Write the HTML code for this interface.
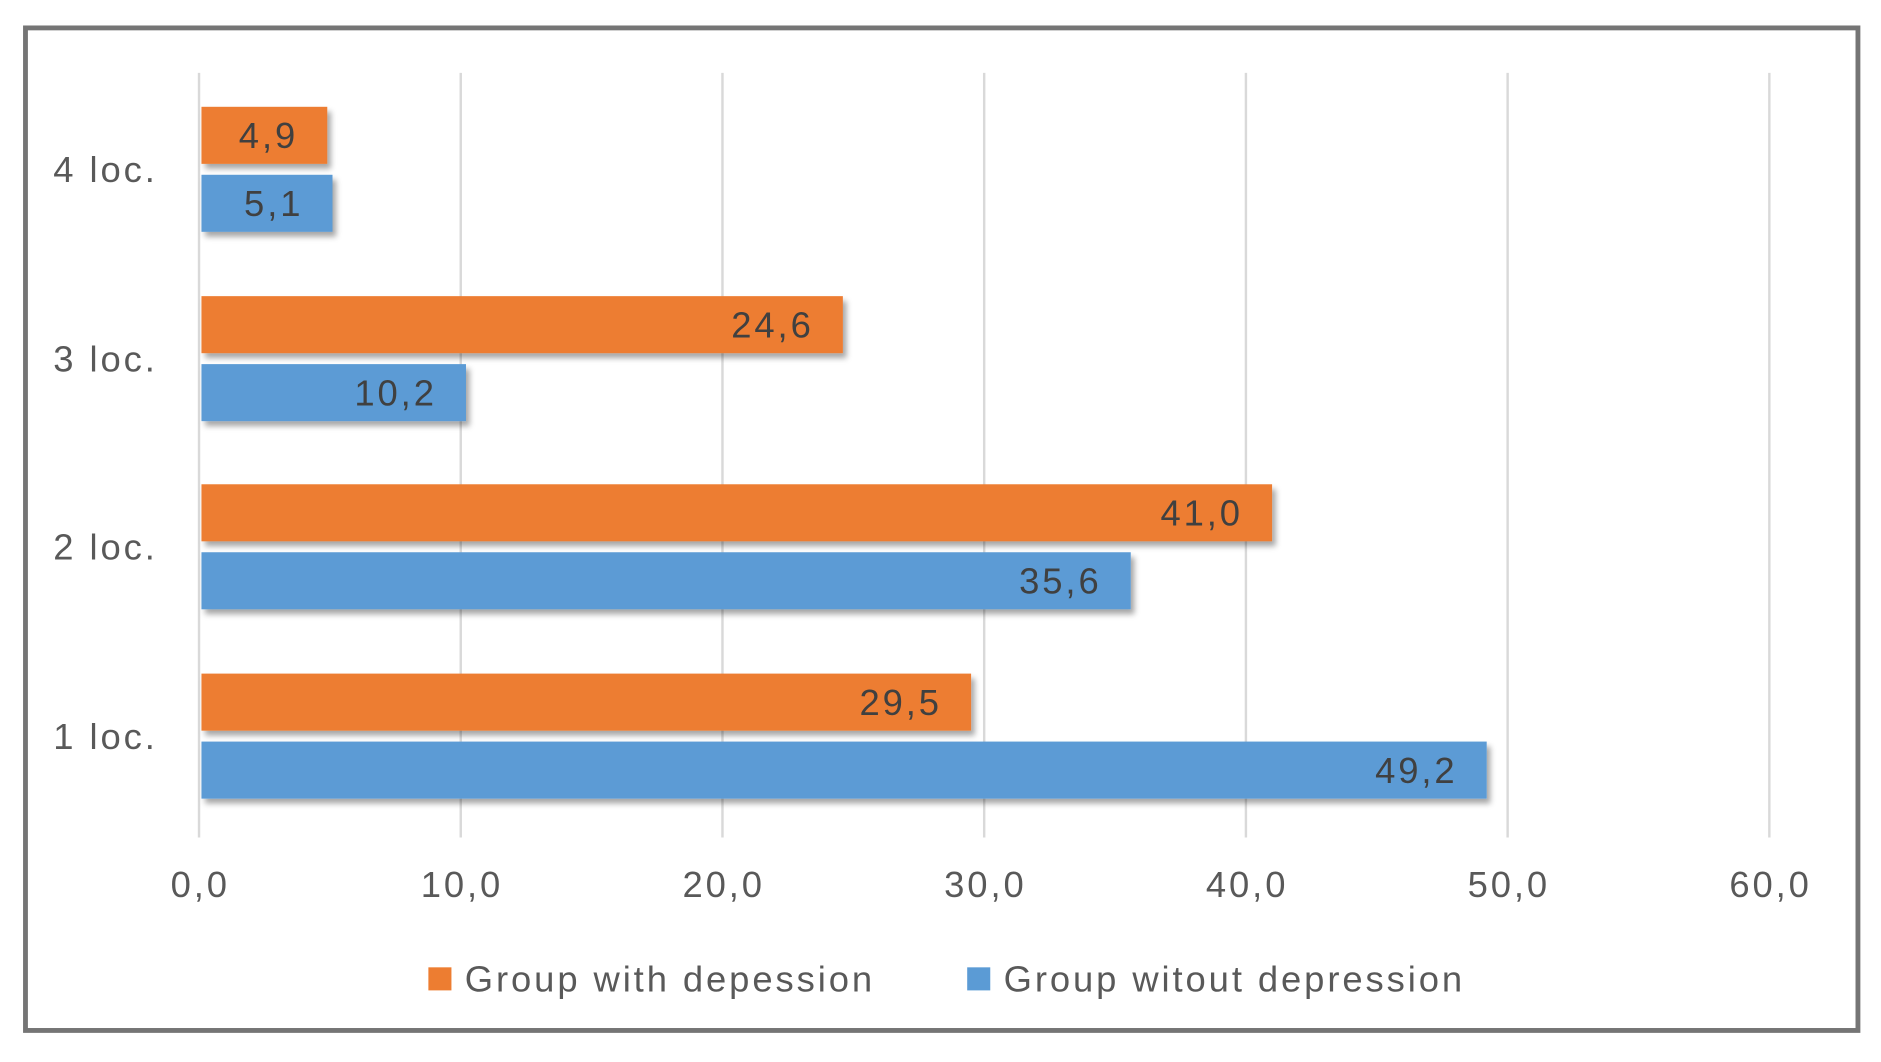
<!DOCTYPE html>
<html><head><meta charset="utf-8"><style>
html,body{margin:0;padding:0;background:#fff;}
svg{display:block;}
text{font-family:"Liberation Sans",sans-serif;letter-spacing:2.4px;}
</style></head><body>
<svg id="chart" width="1881" height="1062" viewBox="0 0 1550 875" preserveAspectRatio="none">
<defs><filter id="sh" x="-5%" y="-20%" width="115%" height="160%"><feDropShadow dx="3" dy="4" stdDeviation="2.5" flood-color="#000" flood-opacity="0.35"/></filter></defs>
<rect x="21" y="23" width="1510" height="826" fill="#fff" stroke="#757575" stroke-width="4"/>
<g id="grid"></g><g id="bars"></g><g id="labels"></g>
<g>
<rect x="353" y="797" width="19" height="19" fill="#ED7D31"/>
<text x="383" y="817" font-size="30" fill="#595959">Group with depession</text>
<rect x="797" y="797" width="19" height="19" fill="#5B9BD5"/>
<text x="827" y="817" font-size="30" fill="#595959">Group witout depression</text>
</g>
</svg>
<script>
const categories=["1 loc.","2 loc.","3 loc.","4 loc."];
const withDep=[29.5,41.0,24.6,4.9];
const withoutDep=[49.2,35.6,10.2,5.1];
const ticks=[0,10,20,30,40,50,60];
const NS="http://www.w3.org/2000/svg";
const x0=164,x1=1458,xMax=60;
const X=v=>x0+(x1-x0)*v/xMax;
const catCenter=[607,451,296,140];
const Y=i=>catCenter[i];
const fmt=v=>v.toFixed(1).replace('.',',');
function mk(tag,attrs,parent){const e=document.createElementNS(NS,tag);for(const k in attrs)e.setAttribute(k,attrs[k]);parent.appendChild(e);return e;}
const grid=document.getElementById('grid'),bars=document.getElementById('bars'),labels=document.getElementById('labels');
ticks.forEach(t=>{
 const l=mk('line',{x1:X(t),x2:X(t),y1:60,y2:690,stroke:'#d9d9d9','stroke-width':2},grid);
 
 
 const tx=mk('text',{x:X(t)+1,y:739,'font-size':30,fill:'#595959','text-anchor':'middle'},labels);
 tx.textContent=fmt(t);
 
 
});
categories.forEach((c,i)=>{
 const cy=Y(i);
 const t=mk('text',{x:130,y:cy+10,'font-size':30,fill:'#595959','text-anchor':'end'},labels);
 t.textContent=c;
 
 
 [[withDep[i],'#ED7D31',cy-52,'bar-with-depression'],[withoutDep[i],'#5B9BD5',cy+4,'bar-without-depression']].forEach(([v,col,y,nm])=>{
  const r=mk('rect',{x:X(0)+2,y:y,width:X(v)-X(0)-2,height:47,fill:col,filter:'url(#sh)'},bars);
  
  
  const vt=mk('text',{x:X(v)-24,y:y+34,'font-size':30,fill:'#404040','text-anchor':'end'},labels);
  vt.textContent=fmt(v);
  
  
 });
});
</script>
</body></html>
